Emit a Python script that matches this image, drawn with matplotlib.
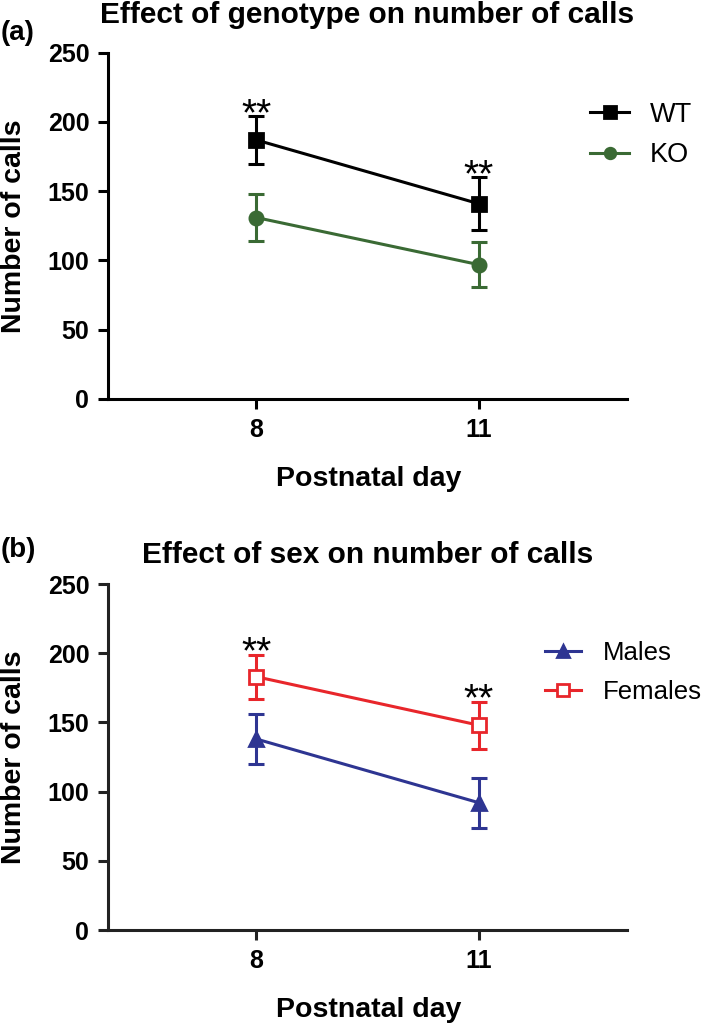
import matplotlib.pyplot as plt

plt.rcParams['font.family'] = ['Liberation Sans', 'DejaVu Sans']

# Data
days = [8, 11]

wt_mean = [187, 141]
wt_err = [17, 19]
ko_mean = [131, 97]
ko_err = [17, 16]

males_mean = [138, 92]
males_err = [18, 18]
females_mean = [183, 148]
females_err = [16, 17]

yticks = [0, 50, 100, 150, 200, 250]

green = '#3a6a34'
blue = '#2e3592'
red = '#e8262b'

fig = plt.figure(figsize=(7.09, 10.25), dpi=100)
W, H = 709, 1025


def box(left, top, right, bottom):
    return [left / W, 1 - bottom / H, (right - left) / W, (bottom - top) / H]


ax1 = fig.add_axes(box(108, 52.7, 627, 399))
ax2 = fig.add_axes(box(108, 584, 627, 930))


def style_axes(ax, spine_color):
    ax.set_xlim(6, 13)
    ax.set_ylim(0, 250)
    ax.set_xticks(days)
    ax.set_yticks(yticks)
    for s in ['top', 'right']:
        ax.spines[s].set_visible(False)
    for s in ['left', 'bottom']:
        ax.spines[s].set_linewidth(2.2)
        ax.spines[s].set_color(spine_color)
    ax.tick_params(width=2.2, length=7.5, pad=6, color=spine_color,
                   labelsize=18)
    for lab in ax.get_xticklabels() + ax.get_yticklabels():
        lab.set_fontweight('bold')


def series(ax, mean, err, color, marker, label, face=None, ms=10):
    ax.errorbar(days, mean, yerr=err, fmt='none', ecolor=color,
                elinewidth=2.2, capsize=6, capthick=2.2, zorder=2)
    ax.plot(days, mean, color=color, lw=2.2, marker=marker, markersize=ms,
            markerfacecolor=face if face else color, markeredgecolor=color,
            markeredgewidth=2, label=label, zorder=3)


def stars(ax, mean, err):
    for x, m, e in zip(days, mean, err):
        ax.text(x, m + e + 1, '**', ha='center', va='center', fontsize=28)


# (a) genotype
series(ax1, wt_mean, wt_err, 'black', 's', 'WT')
series(ax1, ko_mean, ko_err, green, 'o', 'KO', ms=9.5)
stars(ax1, wt_mean, wt_err)
style_axes(ax1, 'black')
ax1.legend(loc='center left', bbox_to_anchor=(590 / W, 1 - 135 / H),
           bbox_transform=fig.transFigure, frameon=False, fontsize=19.5,
           handlelength=1.45, handletextpad=0.75, labelspacing=0.55,
           borderpad=0, borderaxespad=0, markerscale=0.8)

# (b) sex
series(ax2, males_mean, males_err, blue, '^', 'Males', ms=10)
series(ax2, females_mean, females_err, red, 's', 'Females', face='white')
stars(ax2, females_mean, females_err)
style_axes(ax2, '#222222')
ax2.legend(loc='center left', bbox_to_anchor=(545 / W, 1 - 672.5 / H),
           bbox_transform=fig.transFigure, frameon=False, fontsize=18.5,
           handlelength=1.4, handletextpad=0.85, labelspacing=0.6,
           borderpad=0, borderaxespad=0, markerscale=0.8)

# titles, panel letters and axis labels
fig.text(367.5 / W, 1 - 23 / H, 'Effect of genotype on number of calls',
         ha='center', va='baseline', fontsize=21.5, fontweight='bold')
fig.text(367.5 / W, 1 - 563 / H, 'Effect of sex on number of calls',
         ha='center', va='baseline', fontsize=21.5, fontweight='bold')
fig.text(1 / W, 1 - 33 / H, '(a)', ha='left', va='center', fontsize=20,
         fontweight='bold')
fig.text(1 / W, 1 - 550 / H, '(b)', ha='left', va='center', fontsize=20,
         fontweight='bold')

for top, bottom, base in [(52.7, 399, 486), (584, 930, 1017)]:
    fig.text(14 / W, 1 - (top + bottom) / 2 / H, 'Number of calls',
             rotation=90, ha='center', va='center', fontsize=20.5,
             fontweight='bold')
    fig.text(369 / W, 1 - base / H, 'Postnatal day', ha='center',
             va='baseline', fontsize=20.5, fontweight='bold')

fig.savefig('out.png', dpi=100)
